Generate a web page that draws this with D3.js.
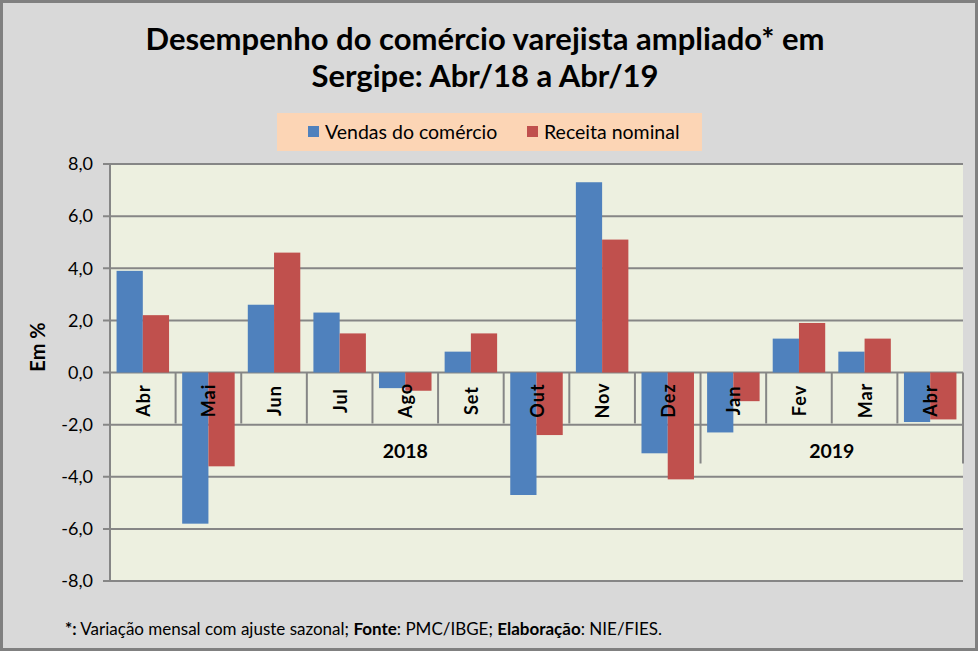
<!DOCTYPE html>
<html>
<head>
<meta charset="utf-8">
<script src="https://cdn.jsdelivr.net/npm/d3@7"></script>
<style>
  body { margin: 0; background: #fff; }
  svg text { font-family: Lato, "Open Sans", sans-serif; }
</style>
</head>
<body>
<svg id="drawing_region"></svg>
<script>
// dados
const months = ["Abr", "Mai", "Jun", "Jul", "Ago", "Set", "Out", "Nov", "Dez", "Jan", "Fev", "Mar", "Abr"];
const years = [
    { label: "2018", first: 0, last: 8 },
    { label: "2019", first: 9, last: 12 }
];
const vendas = [3.9, -5.8, 2.6, 2.3, -0.6, 0.8, -4.7, 7.3, -3.1, -2.3, 1.3, 0.8, -1.9];
const receita = [2.2, -3.6, 4.6, 1.5, -0.7, 1.5, -2.4, 5.1, -4.1, -1.1, 1.9, 1.3, -1.8];
const series_names = ["Vendas do comércio", "Receita nominal"];
const yticks = [-8, -6, -4, -2, 0, 2, 4, 6, 8];

const width = 978, height = 651;
const margin = { top: 164, right: 15, bottom: 70, left: 110 };
const colors = ["#4F81BD", "#C0504D"];
const grid_color = "#868686";

const svg = d3.select("#drawing_region")
    .attr("width", width)
    .attr("height", height);

// fundo
svg.append("rect")
    .attr("x", 1.5).attr("y", 1.5)
    .attr("width", width - 3).attr("height", height - 3)
    .attr("fill", "#D9D9D9")
    .attr("stroke", "#808080")
    .attr("stroke-width", 3);

// titulo
const title = svg.append("text")
    .attr("text-anchor", "middle")
    .attr("font-size", "31px")
    .attr("font-weight", "bold")
    .attr("fill", "#000");
title.append("tspan").attr("x", 485).attr("y", 50).text("Desempenho do comércio varejista ampliado* em");
title.append("tspan").attr("x", 485).attr("y", 87).text("Sergipe: Abr/18 a Abr/19");

// legenda
const legend = svg.append("g");
legend.append("rect")
    .attr("x", 277).attr("y", 113)
    .attr("width", 425).attr("height", 38)
    .attr("fill", "#FCD5B5");
const legend_x = [308, 527];
series_names.forEach((name, i) => {
    legend.append("rect")
        .attr("x", legend_x[i]).attr("y", 126)
        .attr("width", 11).attr("height", 11)
        .attr("fill", colors[i]);
    legend.append("text")
        .attr("x", legend_x[i] + 17).attr("y", 139)
        .attr("font-size", "19.5px")
        .attr("fill", "#000")
        .text(name);
});

// escalas
const xscale = d3.scaleBand()
    .domain(d3.range(months.length))
    .range([margin.left, width - margin.right])
    .paddingInner(0.2)
    .paddingOuter(0.1);
const inner = d3.scaleBand()
    .domain([0, 1])
    .range([0, xscale.bandwidth()]);
const yscale = d3.scaleLinear()
    .domain([-8, 8])
    .range([height - margin.bottom, margin.top]);

const x0 = margin.left, x1 = width - margin.right;
const step = xscale.step();
const y0 = yscale(0);

// area do grafico
svg.append("rect")
    .attr("x", x0).attr("y", yscale(8))
    .attr("width", x1 - x0).attr("height", yscale(-8) - yscale(8))
    .attr("fill", "#EDF0E0");

// linhas de grade
svg.append("g").selectAll("line")
    .data(yticks)
    .join("line")
    .attr("x1", x0 - 7).attr("x2", x1)
    .attr("y1", d => yscale(d)).attr("y2", d => yscale(d))
    .attr("stroke", grid_color)
    .attr("stroke-width", 2);

// barras
const data = months.map((m, i) => ({ i: i, values: [vendas[i], receita[i]] }));
const groups = svg.append("g").selectAll("g")
    .data(data)
    .join("g")
    .attr("transform", d => `translate(${xscale(d.i)},0)`);
groups.selectAll("rect")
    .data(d => d.values.map((v, k) => ({ k: k, v: v })))
    .join("rect")
    .attr("x", d => inner(d.k))
    .attr("width", inner.bandwidth())
    .attr("y", d => Math.min(yscale(d.v), y0))
    .attr("height", d => Math.abs(yscale(d.v) - y0))
    .attr("fill", d => colors[d.k]);

// eixo y
const yaxis = d3.axisLeft(yscale)
    .tickValues(yticks)
    .tickSize(0)
    .tickPadding(17)
    .tickFormat(d => d3.format(".1f")(d).replace(".", ",").replace("−", "-"));
const yaxis_group = svg.append("g")
    .attr("transform", `translate(${x0},0)`)
    .call(yaxis);
yaxis_group.select(".domain").remove();
yaxis_group.selectAll("text")
    .attr("font-size", "18px")
    .attr("fill", "#000")
    .attr("font-family", "Lato, sans-serif");
svg.append("line")
    .attr("x1", x0).attr("x2", x0)
    .attr("y1", yscale(8)).attr("y2", yscale(-8))
    .attr("stroke", grid_color)
    .attr("stroke-width", 2);

// eixo x com dois niveis
const month_bottom = y0 + 51;
const year_bottom = y0 + 91;
const seps = d3.range(1, months.length + 1);
svg.append("g").selectAll("line")
    .data(seps)
    .join("line")
    .attr("x1", i => x0 + i * step).attr("x2", i => x0 + i * step)
    .attr("y1", y0)
    .attr("y2", i => (i === 9 || i === months.length) ? year_bottom : month_bottom)
    .attr("stroke", grid_color)
    .attr("stroke-width", 2);

svg.append("g").selectAll("text")
    .data(months)
    .join("text")
    .attr("transform", (d, i) => `translate(${xscale(i) + xscale.bandwidth() / 2 + 7},${y0 + 28}) rotate(-90)`)
    .attr("text-anchor", "middle")
    .attr("font-size", "18px")
    .attr("font-weight", "bold")
    .attr("letter-spacing", "1px")
    .attr("fill", "#000")
    .text(d => d);

svg.append("g").selectAll("text")
    .data(years)
    .join("text")
    .attr("x", d => x0 + (d.first + d.last + 1) / 2 * step)
    .attr("y", y0 + 85)
    .attr("text-anchor", "middle")
    .attr("font-size", "19.5px")
    .attr("font-weight", "bold")
    .attr("fill", "#000")
    .text(d => d.label);

// titulo do eixo y
svg.append("text")
    .attr("transform", "translate(45,347) rotate(-90)")
    .attr("text-anchor", "middle")
    .attr("font-size", "20px")
    .attr("font-weight", "bold")
    .attr("fill", "#000")
    .text("Em %");

// rodape
const foot = svg.append("text")
    .attr("x", 65).attr("y", 635)
    .attr("font-size", "17px")
    .attr("fill", "#000");
foot.append("tspan").attr("font-weight", "bold").text("*:");
foot.append("tspan").text(" Variação mensal com ajuste sazonal; ");
foot.append("tspan").attr("font-weight", "bold").text("Fonte");
foot.append("tspan").text(": PMC/IBGE; ");
foot.append("tspan").attr("font-weight", "bold").text("Elaboração");
foot.append("tspan").text(": NIE/FIES.");
</script>
</body>
</html>
